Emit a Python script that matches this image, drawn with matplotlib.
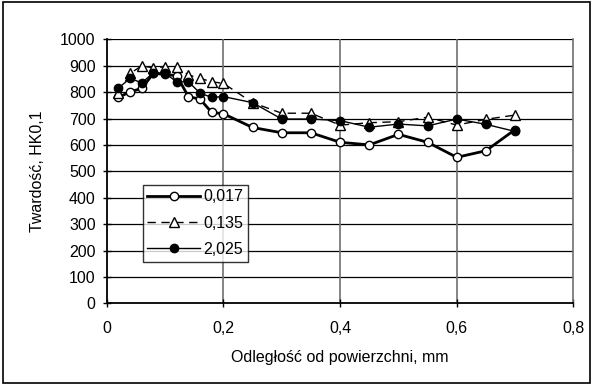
import matplotlib
matplotlib.use("Agg")
import matplotlib.pyplot as plt
from matplotlib.patches import Rectangle

plt.rcParams['font.family'] = ['Liberation Sans', 'DejaVu Sans']

# distance from surface, mm
x = [0.02, 0.04, 0.06, 0.08, 0.10, 0.12, 0.14, 0.16, 0.18, 0.20,
     0.25, 0.30, 0.35, 0.40, 0.45, 0.50, 0.55, 0.60, 0.65, 0.70]

# hardness HK0,1 for each series
hk_0017 = [780, 801, 814, 871, 867, 862, 783, 773, 723, 718,
           666, 646, 646, 610, 600, 640, 610, 553, 578, 658]
hk_0135 = [795, 871, 899, 892, 896, 896, 865, 852, 839, 833,
           760, 720, 720, 675, 684, 688, 705, 675, 697, 713]
hk_2025 = [815, 852, 835, 873, 871, 839, 839, 796, 780, 783,
           760, 698, 698, 692, 667, 679, 672, 698, 678, 651]

labels = ['0,017', '0,135', '2,025']
xticks = [0, 0.2, 0.4, 0.6, 0.8]
xticklabels = ['0', '0,2', '0,4', '0,6', '0,8']
yticks = list(range(0, 1001, 100))

fig = plt.figure(figsize=(5.93, 3.85), dpi=100)
ax = fig.add_axes([0.18, 0.212, 0.787, 0.686])

ax.plot(x, hk_0017, color='black', lw=2, marker='o', ms=6,
        mfc='white', mec='black', mew=1, label=labels[0], zorder=3)
ax.plot(x, hk_0135, color='black', lw=1, ls=(0, (6, 4)), marker='^', ms=7,
        mfc='white', mec='black', mew=1, label=labels[1], zorder=3)
ax.plot(x, hk_2025, color='black', lw=1, marker='o', ms=6,
        mfc='black', mec='black', label=labels[2], zorder=4)

ax.set_xlim(0, 0.8)
ax.set_ylim(0, 1000)
ax.set_xticks(xticks)
ax.set_xticklabels(xticklabels)
ax.set_yticks(yticks)

# Excel-like grid: black horizontal, grey vertical
for y in yticks[1:]:
    ax.axhline(y, color='black', lw=0.9, zorder=1)
for xv in xticks[1:-1]:
    ax.axvline(xv, color='#707070', lw=1.2, zorder=1)

for s in ['left', 'bottom']:
    ax.spines[s].set_linewidth(1.3)
ax.spines['top'].set_visible(False)
ax.spines['right'].set_color('#707070')
ax.spines['right'].set_linewidth(1.2)

ax.tick_params(axis='both', direction='inout', length=6, width=1,
               labelsize=11.5, colors='black')
ax.tick_params(axis='x', pad=10)
ax.tick_params(axis='y', pad=5)

ax.set_xlabel('Odległość od powierzchni, mm', fontsize=11.5, labelpad=10)
ax.set_ylabel('Twardość, HK0,1', fontsize=11.5, labelpad=11)

leg = ax.legend(loc='lower left', bbox_to_anchor=(0.077, 0.158),
                borderaxespad=0, fontsize=11.5, frameon=True, fancybox=False,
                edgecolor='black', handlelength=3.3, borderpad=0.3,
                labelspacing=0.7, handletextpad=0.2)
leg.get_frame().set_linewidth(1)

# border around the whole chart
fig.patches.append(Rectangle((0.005, 0.005), 0.99, 0.99, transform=fig.transFigure,
                             fill=False, edgecolor='black', lw=1.2))

fig.savefig('out.png', dpi=100)
